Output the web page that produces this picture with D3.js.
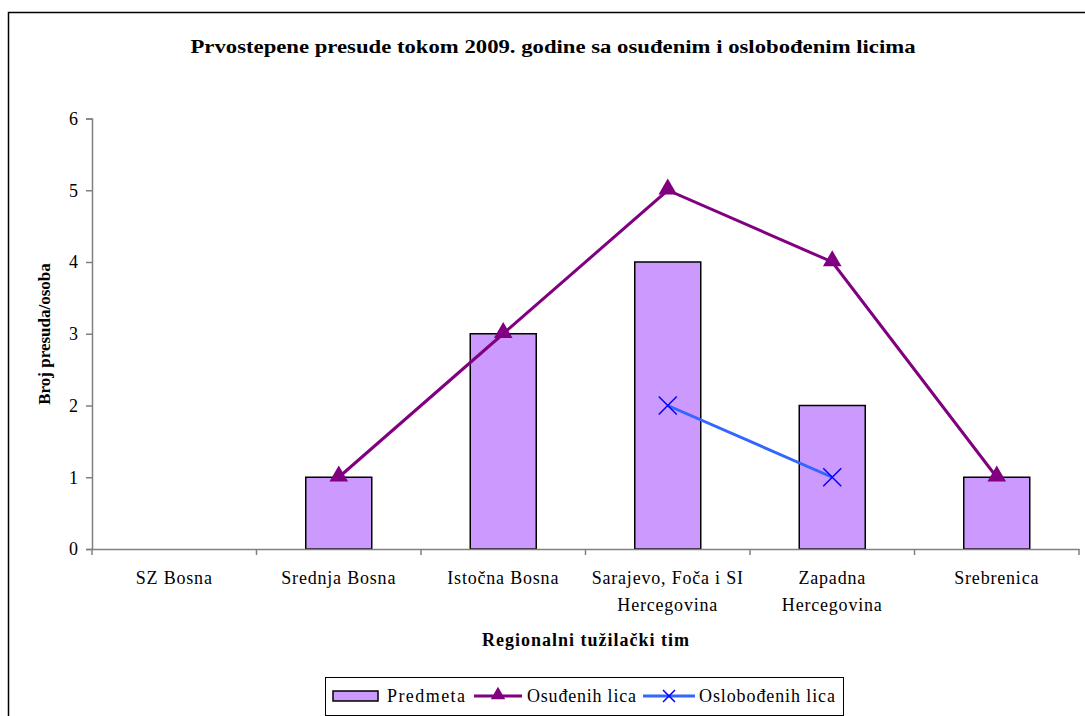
<!DOCTYPE html>
<html>
<head>
<meta charset="utf-8">
<script src="https://cdn.jsdelivr.net/npm/d3@7"></script>
<style>
  html, body { margin: 0; padding: 0; background: #fff; }
  svg { display: block; }
  text { font-family: "Liberation Serif", "Times New Roman", serif; fill: #000; }
</style>
</head>
<body>
<svg id="chart" width="1085" height="716"></svg>
<script>
const categories = ["SZ Bosna", "Srednja Bosna", "Istočna Bosna", "Sarajevo, Foča i SI|Hercegovina", "Zapadna|Hercegovina", "Srebrenica"];
const predmeta = [null, 1, 3, 4, 2, 1];
const osudjenih = [null, 1, 3, 5, 4, 1];
const oslobodjenih = [null, null, null, 2, 1, null];
const yTicks = [0, 1, 2, 3, 4, 5, 6];
const titleText = "Prvostepene presude tokom 2009. godine sa osuđenim i oslobođenim licima";
const yTitle = "Broj presuda/osoba";
const xTitle = "Regionalni tužilački tim";
const seriesNames = ["Predmeta", "Osuđenih lica", "Oslobođenih lica"];

const svg = d3.select("#chart");
const plot = { left: 92, right: 1079, top: 118.5, bottom: 549 };

// outer frame
svg.append("rect").attr("x", 8.5).attr("y", 12.5).attr("width", 1100).attr("height", 720)
  .attr("fill", "#fff").attr("stroke", "#000").attr("stroke-width", 1.5);

const x = d3.scaleBand().domain(categories).range([plot.left, plot.right]).paddingInner(0).paddingOuter(0);
const y = d3.scaleLinear().domain([0, 6]).range([plot.bottom, plot.top]);

// title
svg.append("text").attr("x", 553).attr("y", 53).attr("text-anchor", "middle")
  .attr("font-size", 18).attr("font-weight", "bold").attr("textLength", 725).attr("lengthAdjust", "spacingAndGlyphs")
  .text(titleText);

// y axis
const yAxis = svg.append("g").attr("transform", `translate(${plot.left},0)`)
  .call(d3.axisLeft(y).tickValues(yTicks).tickSize(6).tickPadding(8).tickFormat(d3.format("d")));
yAxis.select(".domain").attr("stroke", "#808080").attr("stroke-width", 1.5);
yAxis.selectAll(".tick line").attr("stroke", "#808080").attr("stroke-width", 1.5);
yAxis.selectAll(".tick text").attr("font-size", 18).attr("fill", "#000");

// bars
const bw = 66;
svg.append("g").selectAll("rect").data(categories.map((c, i) => ({ c, v: predmeta[i] })).filter(d => d.v != null))
  .join("rect")
  .attr("x", d => x(d.c) + x.bandwidth() / 2 - bw / 2)
  .attr("y", d => y(d.v))
  .attr("width", bw)
  .attr("height", d => y(0) - y(d.v))
  .attr("fill", "#CC99FF").attr("stroke", "#000").attr("stroke-width", 1.5);

// x axis
const xAxis = svg.append("g").attr("transform", `translate(0,${plot.bottom})`)
  .call(d3.axisBottom(x).tickSize(0).tickFormat(""));
xAxis.select(".domain").attr("stroke", "#808080").attr("stroke-width", 1.5);
xAxis.selectAll(".tick").remove();
const boundaries = d3.range(categories.length + 1).map(i => plot.left + i * x.step());
xAxis.selectAll("line.bt").data(boundaries).join("line").attr("class", "bt")
  .attr("x1", d => d).attr("x2", d => d).attr("y1", 0).attr("y2", 6)
  .attr("stroke", "#808080").attr("stroke-width", 1.5);

// category labels
const lbl = svg.append("g");
categories.forEach(c => {
  const lines = c.split("|");
  const t = lbl.append("text").attr("x", x(c) + x.bandwidth() / 2).attr("y", 584)
    .attr("text-anchor", "middle").attr("font-size", 18).attr("letter-spacing", 0.8);
  lines.forEach((ln, j) => {
    t.append("tspan").attr("x", x(c) + x.bandwidth() / 2).attr("dy", j === 0 ? 0 : 27).text(ln);
  });
});

// axis titles
svg.append("text").attr("x", 586).attr("y", 646).attr("text-anchor", "middle")
  .attr("font-size", 18).attr("font-weight", "bold").attr("letter-spacing", 1).text(xTitle);
svg.append("text").attr("transform", "translate(50,334) rotate(-90)").attr("text-anchor", "middle")
  .attr("font-size", 17).attr("font-weight", "bold").text(yTitle);

// lines
const cx = c => x(c) + x.bandwidth() / 2;
const line = d3.line().defined(d => d.v != null).x(d => cx(d.c)).y(d => y(d.v));
const osData = categories.map((c, i) => ({ c, v: osudjenih[i] }));
const olData = categories.map((c, i) => ({ c, v: oslobodjenih[i] }));

svg.append("path").datum(osData).attr("d", line).attr("fill", "none")
  .attr("stroke", "#800080").attr("stroke-width", 3);
svg.append("path").datum(olData).attr("d", line).attr("fill", "none")
  .attr("stroke", "#3366FF").attr("stroke-width", 3);

const tri = d3.symbol().type(d3.symbolTriangle).size(150);
svg.append("g").selectAll("path").data(osData.filter(d => d.v != null)).join("path")
  .attr("d", tri).attr("transform", d => `translate(${cx(d.c)},${y(d.v) - 1})`).attr("fill", "#800080");

const xs = 9;
const xg = svg.append("g");
olData.filter(d => d.v != null).forEach(d => {
  const px = cx(d.c), py = y(d.v);
  xg.append("path").attr("d", `M${px - xs},${py - xs}L${px + xs},${py + xs}M${px - xs},${py + xs}L${px + xs},${py - xs}`)
    .attr("stroke", "#0000FF").attr("stroke-width", 1.5).attr("fill", "none");
});

// legend
const lg = svg.append("g");
lg.append("rect").attr("x", 325.5).attr("y", 677.5).attr("width", 518).attr("height", 38)
  .attr("fill", "#fff").attr("stroke", "#000").attr("stroke-width", 1);
const ly = 696;
lg.append("rect").attr("x", 333).attr("y", 691).attr("width", 45).attr("height", 10)
  .attr("fill", "#CC99FF").attr("stroke", "#000").attr("stroke-width", 1.5);
lg.append("text").attr("x", 387).attr("y", 702).attr("font-size", 18).attr("textLength", 78).text(seriesNames[0]);
lg.append("line").attr("x1", 474).attr("x2", 522).attr("y1", ly).attr("y2", ly).attr("stroke", "#800080").attr("stroke-width", 3);
lg.append("path").attr("d", d3.symbol().type(d3.symbolTriangle).size(90)).attr("transform", `translate(498,${ly - 1})`).attr("fill", "#800080");
lg.append("text").attr("x", 527).attr("y", 702).attr("font-size", 18).attr("textLength", 109).text(seriesNames[1]);
lg.append("line").attr("x1", 643).attr("x2", 695).attr("y1", ly).attr("y2", ly).attr("stroke", "#3366FF").attr("stroke-width", 3);
lg.append("path").attr("d", `M663,${ly - 6}L675,${ly + 6}M663,${ly + 6}L675,${ly - 6}`).attr("stroke", "#0000FF").attr("stroke-width", 1.5);
lg.append("text").attr("x", 699).attr("y", 702).attr("font-size", 18).attr("textLength", 136).text(seriesNames[2]);
</script>
</body>
</html>
